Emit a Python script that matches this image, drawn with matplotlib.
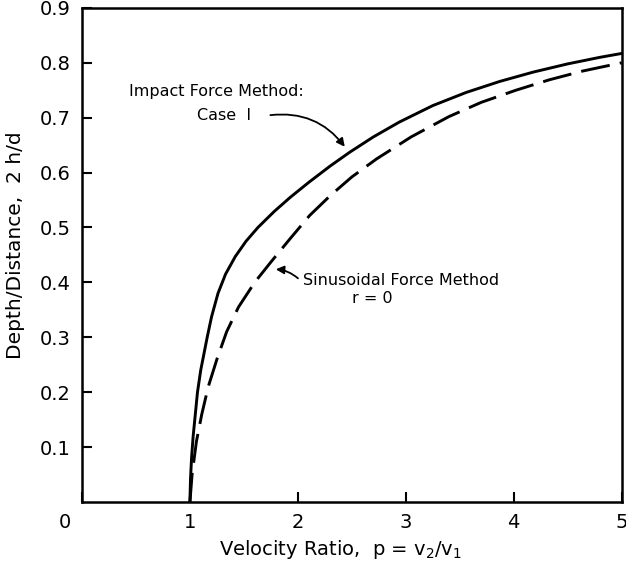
import matplotlib
matplotlib.use('Agg')
import matplotlib.pyplot as plt
import matplotlib.transforms as mtransforms

# data
impact_x = [1.0, 1.005, 1.015, 1.03, 1.05, 1.07, 1.1, 1.13, 1.16, 1.2, 1.26, 1.33, 1.42,
            1.52, 1.63, 1.78, 1.93, 2.1, 2.3, 2.48, 2.7, 2.94, 3.25, 3.56, 3.87, 4.18,
            4.5, 4.8, 5.0]
impact_y = [0.0, 0.04, 0.08, 0.12, 0.16, 0.2, 0.24, 0.27, 0.3, 0.337, 0.38, 0.415, 0.447,
            0.475, 0.5, 0.529, 0.555, 0.582, 0.612, 0.637, 0.665, 0.692, 0.722, 0.746,
            0.766, 0.783, 0.798, 0.81, 0.817]

sinus_x = [1.0, 1.02, 1.06, 1.11, 1.17, 1.25, 1.34, 1.45, 1.6, 1.75, 1.93, 2.11, 2.3,
           2.5, 2.73, 3.05, 3.4, 3.7, 4.02, 4.33, 4.64, 5.0]
sinus_y = [0.0, 0.05, 0.11, 0.16, 0.21, 0.26, 0.31, 0.355, 0.40, 0.437, 0.48, 0.522,
           0.558, 0.592, 0.625, 0.665, 0.702, 0.728, 0.75, 0.769, 0.785, 0.80]

x_ticks = [0, 1, 2, 3, 4, 5]
y_ticks = [0.1, 0.2, 0.3, 0.4, 0.5, 0.6, 0.7, 0.8, 0.9]

fig = plt.figure(figsize=(6.26, 5.64), dpi=100)
ax = fig.add_axes([0.131, 0.110, 0.862, 0.876])

ax.plot(impact_x, impact_y, color='black', linewidth=2.1)
ax.plot(sinus_x, sinus_y, color='black', linewidth=2.1, dashes=(10, 3.5))

ax.set_xlim(0, 5)
ax.set_ylim(0, 0.9)
ax.set_xticks(x_ticks)
ax.set_xticklabels([str(v) for v in x_ticks])
ax.set_yticks(y_ticks)
ax.set_yticklabels([f'{v:.1f}' for v in y_ticks])
ax.tick_params(direction='in', length=7, width=1.5, labelsize=14, pad=8)

# the "0" under the origin sits a bit left in the original
shift = mtransforms.ScaledTranslation(-17 / 100, 0, fig.dpi_scale_trans)
lbl0 = ax.get_xticklabels()[0]
lbl0.set_transform(lbl0.get_transform() + shift)

for s in ax.spines.values():
    s.set_linewidth(1.8)

ax.set_xlabel('Velocity Ratio,  p = v$_2$/v$_1$', fontsize=14)
ax.xaxis.set_label_coords(0.48, -0.072)
ax.set_ylabel('Depth/Distance,  2 h/d', fontsize=14.5)
ax.yaxis.set_label_coords(-0.105, 0.52)

# annotations
ax.text(0.44, 0.748, 'Impact Force Method:', fontsize=11.5, ha='left', va='center')
ax.text(1.07, 0.704, 'Case  I', fontsize=11.5, ha='left', va='center')
ax.annotate('', xy=(2.45, 0.643), xytext=(1.72, 0.704),
            arrowprops=dict(arrowstyle='-|>', color='black', lw=1.3,
                            connectionstyle='arc3,rad=-0.3', mutation_scale=12))

ax.text(2.05, 0.404, 'Sinusoidal Force Method', fontsize=11.5, ha='left', va='center')
ax.text(2.69, 0.371, 'r = 0', fontsize=11.5, ha='center', va='center')
ax.annotate('', xy=(1.77, 0.424), xytext=(2.02, 0.404),
            arrowprops=dict(arrowstyle='-|>', color='black', lw=1.3,
                            connectionstyle='arc3,rad=0.2', mutation_scale=12))

plt.savefig('out.png', dpi=100)
